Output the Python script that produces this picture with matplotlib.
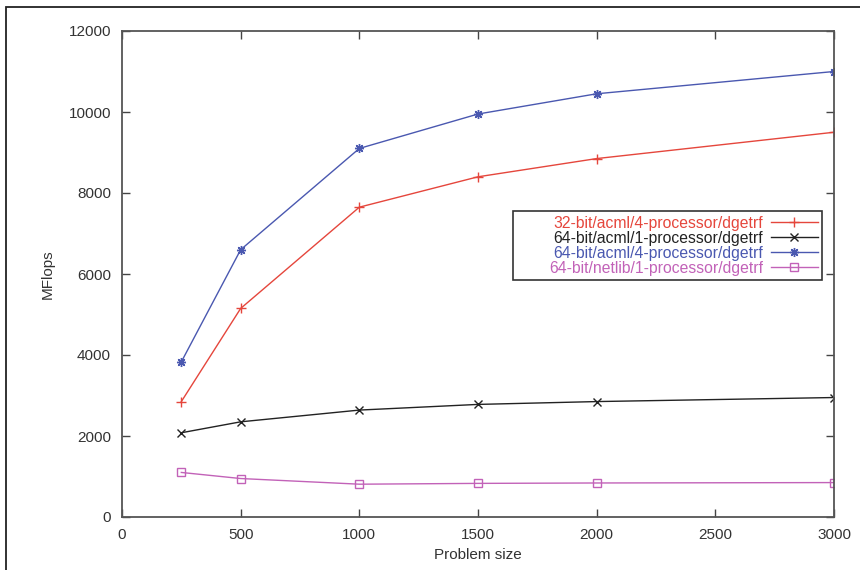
import matplotlib
matplotlib.use('Agg')
import matplotlib.pyplot as plt
from matplotlib.patches import Rectangle

plt.rcParams['font.family'] = ['Liberation Sans', 'DejaVu Sans']

# problem sizes and measured MFlops per configuration
sizes = [250, 500, 1000, 1500, 2000, 3000]
acml32_4p = [2850, 5150, 7650, 8400, 8850, 9500]
acml64_1p = [2080, 2350, 2640, 2780, 2850, 2950]
acml64_4p = [3830, 6600, 9100, 9950, 10450, 11000]
netlib64_1p = [1100, 950, 810, 830, 840, 850]

labels = ['32-bit/acml/4-processor/dgetrf',
          '64-bit/acml/1-processor/dgetrf',
          '64-bit/acml/4-processor/dgetrf',
          '64-bit/netlib/1-processor/dgetrf']
colors = ['#e5463c', '#222222', '#4a58b0', '#c262b8']

xticks = [0, 500, 1000, 1500, 2000, 2500, 3000]
yticks = [0, 2000, 4000, 6000, 8000, 10000, 12000]

fig = plt.figure(figsize=(8.6, 5.7), dpi=100)
ax = fig.add_axes([122/860, 1-517/570, (834-122)/860, (517-31)/570])

ax.plot(sizes, acml32_4p, color=colors[0], marker='+', ms=6.5, mew=1.0, lw=1.0, label=labels[0])
ax.plot(sizes, acml64_1p, color=colors[1], marker='x', ms=5.5, mew=1.0, lw=1.0, label=labels[1])
ax.plot(sizes, acml64_4p, color=colors[2], marker=(8, 2, 0), ms=6.5, mew=1.0, lw=1.0, label=labels[2])
ax.plot(sizes, netlib64_1p, color=colors[3], marker='s', ms=5.5, mew=1.0, lw=1.0,
        fillstyle='none', label=labels[3])

ax.set_xlim(0, 3000)
ax.set_ylim(0, 12000)
ax.set_xticks(xticks)
ax.set_yticks(yticks)
ax.tick_params(direction='in', length=6, width=1, top=True, right=True,
               labelsize=11, colors='#444444', labelcolor='#333333', pad=8)
for s in ax.spines.values():
    s.set_color('#555555')
    s.set_linewidth(1.3)

ax.set_xlabel('Problem size', fontsize=11, color='#333333', labelpad=4)
ax.set_ylabel('MFlops', fontsize=11, color='#333333', labelpad=10)

leg = ax.legend(loc='upper left', bbox_to_anchor=((513-122)/712, (517-211)/486),
                markerfirst=False, fontsize=11.3, labelspacing=0.0, handlelength=3.0,
                handletextpad=0.5, borderpad=0.3, fancybox=False, framealpha=1,
                edgecolor='#333333', borderaxespad=0)
leg.get_frame().set_linewidth(1.2)
for t, c in zip(leg.get_texts(), colors):
    t.set_color(c)
# right-align the rows so the texts end where the sample lines start,
# and widen the column to leave gnuplot's extra room on the left
for col in leg._legend_handle_box.get_children():
    col.align = 'right'
    col.width = 300

# outer frame of the original figure (left and top edges visible)
fig.add_artist(Rectangle((6/860, -0.2), 2, 1.2 - 7/570, transform=fig.transFigure,
                         fill=False, edgecolor='#222222', lw=1.3))

fig.savefig('out.png', dpi=100)
